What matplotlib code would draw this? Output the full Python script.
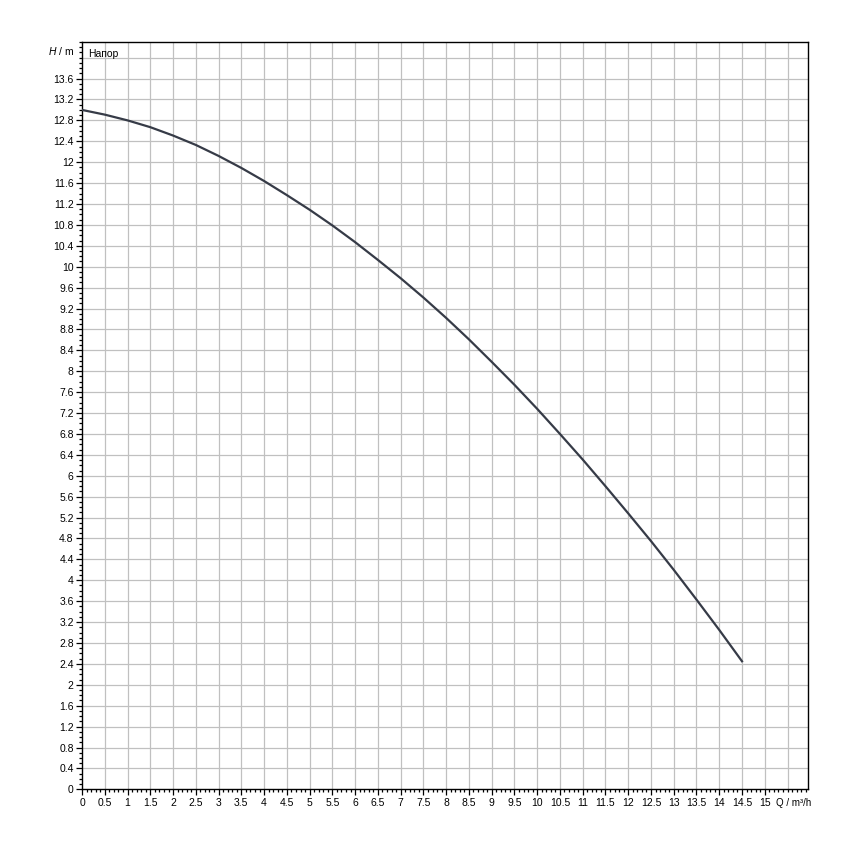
import numpy as np
import matplotlib
matplotlib.use("Agg")
import matplotlib.pyplot as plt
from matplotlib.ticker import MultipleLocator

# pump curve, Q in m3/h, H in m
flow = [0.0, 0.5, 1.0, 1.5, 2.0, 2.5, 3.0, 3.5, 4.0, 4.5, 5.0, 5.5, 6.0, 6.5, 7.0,
        7.5, 8.0, 8.5, 9.0, 9.5, 10.0, 10.5, 11.0, 11.5, 12.0, 12.5, 13.0, 13.5, 14.0, 14.5]
head = [13.0, 12.91, 12.80, 12.67, 12.51, 12.33, 12.12, 11.89, 11.64, 11.37, 11.09, 10.79,
        10.47, 10.13, 9.78, 9.41, 9.02, 8.61, 8.18, 7.74, 7.28, 6.80, 6.31, 5.80, 5.28,
        4.75, 4.20, 3.63, 3.05, 2.45]

x_ticks = np.arange(0, 15.01, 0.5)
y_ticks = np.arange(0, 13.61, 0.4)
curve_label = "Напор"

plt.rcParams['font.family'] = ['Liberation Sans', 'DejaVu Sans']
plt.rcParams['mathtext.fontset'] = 'custom'
plt.rcParams['mathtext.it'] = 'Liberation Sans:italic'
fig = plt.figure(figsize=(8.5, 8.5), dpi=100)
ax = fig.add_axes([0.0965, 0.0714, 0.8541, 0.8792])

ax.plot(flow, head, color='#363b47', lw=1.6, solid_joinstyle='round', zorder=3)

ax.set_xlim(0, 15.95)
ax.set_ylim(0, 14.3)

# grid every 0.5 on Q and every 0.4 on H
for gx in np.arange(0.5, 15.51, 0.5):
    ax.axvline(gx, color='#c0c0c0', lw=0.9, zorder=1)
for gy in np.arange(0.4, 14.01, 0.4):
    ax.axhline(gy, color='#c0c0c0', lw=0.9, zorder=1)

ax.set_xticks(x_ticks)
ax.set_xticklabels([f"{v:g}" for v in x_ticks])
ax.set_yticks(y_ticks)
ax.set_yticklabels([f"{v:.1f}".rstrip('0').rstrip('.') for v in y_ticks])
ax.xaxis.set_minor_locator(MultipleLocator(0.1))
ax.yaxis.set_minor_locator(MultipleLocator(0.1))
ax.tick_params(which='major', direction='out', length=4, width=0.9, labelsize=7.5, pad=2)
ax.tick_params(which='minor', direction='out', length=2.5, width=0.9)

for s in ax.spines.values():
    s.set_color('black')
    s.set_linewidth(1.0)

# axis names sit where the next tick label would be
ax.text(-0.17, 14.12, r"$\it{H}$ / m", ha='right', va='center', fontsize=7.5, clip_on=False)
ax.annotate("Q / m³/h", xy=(15.24, 0), xycoords=('data', 'axes fraction'),
            xytext=(0, -6), textcoords='offset points', ha='left', va='top',
            fontsize=7, annotation_clip=False)
ax.text(0.13, 14.07, curve_label, ha='left', va='center', fontsize=7.5)

fig.savefig("out.png", dpi=100)
